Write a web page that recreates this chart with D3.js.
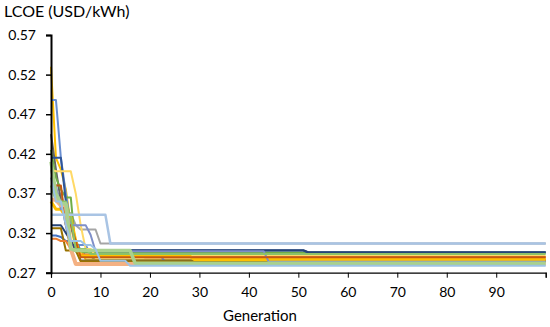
<!DOCTYPE html>
<html>
<head>
<meta charset="utf-8">
<script src="https://cdn.jsdelivr.net/npm/d3@7"></script>
<style>
  body { margin: 0; background: #fff; }
  text { font-family: Lato, "Open Sans", sans-serif; fill: #000; }
</style>
</head>
<body>
<script>
// each run: [generation, LCOE] where the value holds until the next entry
var generations = [0, 100];
var yTicks = [0.27, 0.32, 0.37, 0.42, 0.47, 0.52, 0.57];
var xTicks = [0, 10, 20, 30, 40, 50, 60, 70, 80, 90, 100];

var runGray      = [[0,0.400],[1,0.370],[3,0.345],[5,0.330],[6,0.3245],[10,0.3068]];
var runBlue1     = [[0,0.317],[2,0.315],[3,0.310],[5,0.300],[7,0.291],[9,0.2855]];
var runYellow    = [[0,0.530],[1,0.415],[2,0.400],[3,0.375],[4,0.330],[5,0.300],[7,0.2867]];
var runBlue2     = [[0,0.488],[2,0.415],[3,0.370],[4,0.330],[5,0.305],[8,0.293],[23,0.2839]];
var runDarkGray  = [[0,0.445],[1,0.400],[2,0.360],[3,0.330],[4,0.300],[6,0.2855]];
var runGreen     = [[0,0.425],[1,0.390],[2,0.375],[3,0.365],[5,0.297],[7,0.2955]];
var runBlue3     = [[0,0.415],[3,0.360],[4,0.330],[5,0.310],[6,0.298],[52,0.2955]];
var runLtYellow  = [[0,0.400],[1,0.398],[5,0.370],[6,0.330],[7,0.300],[9,0.2911]];
var runDarkBlue  = [[0,0.330],[3,0.320],[4,0.310],[5,0.2983],[52,0.2958]];
var runDarkGold  = [[0,0.326],[3,0.298],[6,0.2845]];
var runOrange    = [[0,0.313],[2,0.310],[4,0.300],[6,0.293],[19,0.2894]];
var runGold2     = [[0,0.360],[1,0.350],[3,0.340],[5,0.310],[6,0.291],[29,0.2867]];
var runLtGray    = [[0,0.380],[2,0.350],[4,0.330],[8,0.318],[9,0.297],[44,0.2839]];
var runDkOrange  = [[0,0.390],[1,0.380],[3,0.330],[5,0.310],[6,0.2894]];
var runGreen2    = [[0,0.380],[1,0.360],[4,0.340],[5,0.300],[8,0.2936]];
var runLtOrange  = [[0,0.362],[2,0.355],[4,0.300],[5,0.281]];
var runLtBlue    = [[0,0.343],[12,0.3068]];
var runLtGreen   = [[0,0.410],[1,0.370],[2,0.357],[4,0.300],[5,0.298],[17,0.282]];
var runSkyBlue   = [[0,0.390],[1,0.360],[3,0.330],[4,0.310],[7,0.305],[9,0.300],[10,0.285],[16,0.2788]];

var runs = [
  {data: runGray,     color: "#A5A5A5", w: 2},
  {data: runBlue1,    color: "#4472C4", w: 2},
  {data: runYellow,   color: "#FFC000", w: 2},
  {data: runBlue2,    color: "#698ED0", w: 2},
  {data: runDarkGray, color: "#636363", w: 2},
  {data: runGreen,    color: "#70AD47", w: 2},
  {data: runBlue3,    color: "#2F5597", w: 2},
  {data: runLtYellow, color: "#FFD966", w: 2},
  {data: runDarkBlue, color: "#264478", w: 2},
  {data: runDarkGold, color: "#997300", w: 2},
  {data: runOrange,   color: "#ED7D31", w: 2},
  {data: runGold2,    color: "#FFC000", w: 3},
  {data: runLtGray,   color: "#7F8FC9", w: 2},
  {data: runDkOrange, color: "#C55A11", w: 2},
  {data: runGreen2,   color: "#8CC168", w: 2},
  {data: runLtOrange, color: "#F4B183", w: 4},
  {data: runLtBlue,   color: "#A9C4E4", w: 2.5},
  {data: runLtGreen,  color: "#A9D18E", w: 3.5},
  {data: runSkyBlue,  color: "#9DC3E6", w: 2}
];

var width = 550, height = 327;
var margin = {top: 35, right: 4.3, bottom: 54.3, left: 51};

var x = d3.scaleLinear().domain(generations).range([margin.left, width - margin.right]);
var y = d3.scaleLinear().domain([0.27, 0.57]).range([height - margin.bottom, margin.top]);

var svg = d3.select("body").append("svg")
  .attr("width", width)
  .attr("height", height);

// turn change points into the stepped polyline Excel draws
function stepPoints(run) {
  var pts = [run[0]];
  for (var i = 1; i < run.length; i++) {
    pts.push([run[i][0] - 1, run[i - 1][1]]);
    pts.push(run[i]);
  }
  pts.push([generations[1], run[run.length - 1][1]]);
  return pts;
}

var line = d3.line()
  .x(function(d) { return x(d[0]); })
  .y(function(d) { return y(d[1]); });

svg.append("g")
  .selectAll("path")
  .data(runs)
  .enter().append("path")
  .attr("fill", "none")
  .attr("stroke", function(d) { return d.color; })
  .attr("stroke-width", function(d) { return d.w; })
  .attr("stroke-linejoin", "round")
  .attr("d", function(d) { return line(stepPoints(d.data)); });

// x axis
var xAxis = svg.append("g")
  .attr("transform", "translate(0," + y(0.27) + ")")
  .call(d3.axisBottom(x).tickValues(xTicks).tickSize(5).tickPadding(9)
    .tickFormat(function(d) { return d === 100 ? "" : d; }));
xAxis.selectAll("text").style("font-size", "14px");
xAxis.selectAll("line").attr("stroke", "#000");
xAxis.select(".domain").attr("stroke", "#000").attr("stroke-width", 1.2);

// y axis
var yAxis = svg.append("g")
  .attr("transform", "translate(" + x(0) + ",0)")
  .call(d3.axisLeft(y).tickValues(yTicks).tickSize(5).tickPadding(10)
    .tickFormat(d3.format(".2f")));
yAxis.selectAll("text").style("font-size", "14px");
yAxis.selectAll("line").attr("stroke", "#000").attr("stroke-width", 1.5);
yAxis.select(".domain").attr("stroke", "#000").attr("stroke-width", 2);

svg.append("text")
  .attr("x", 4)
  .attr("y", 17)
  .style("font-size", "16px")
  .text("LCOE (USD/kWh)");

svg.append("text")
  .attr("x", 260)
  .attr("y", 321)
  .attr("text-anchor", "middle")
  .style("font-size", "15px")
  .text("Generation");
</script>
</body>
</html>
